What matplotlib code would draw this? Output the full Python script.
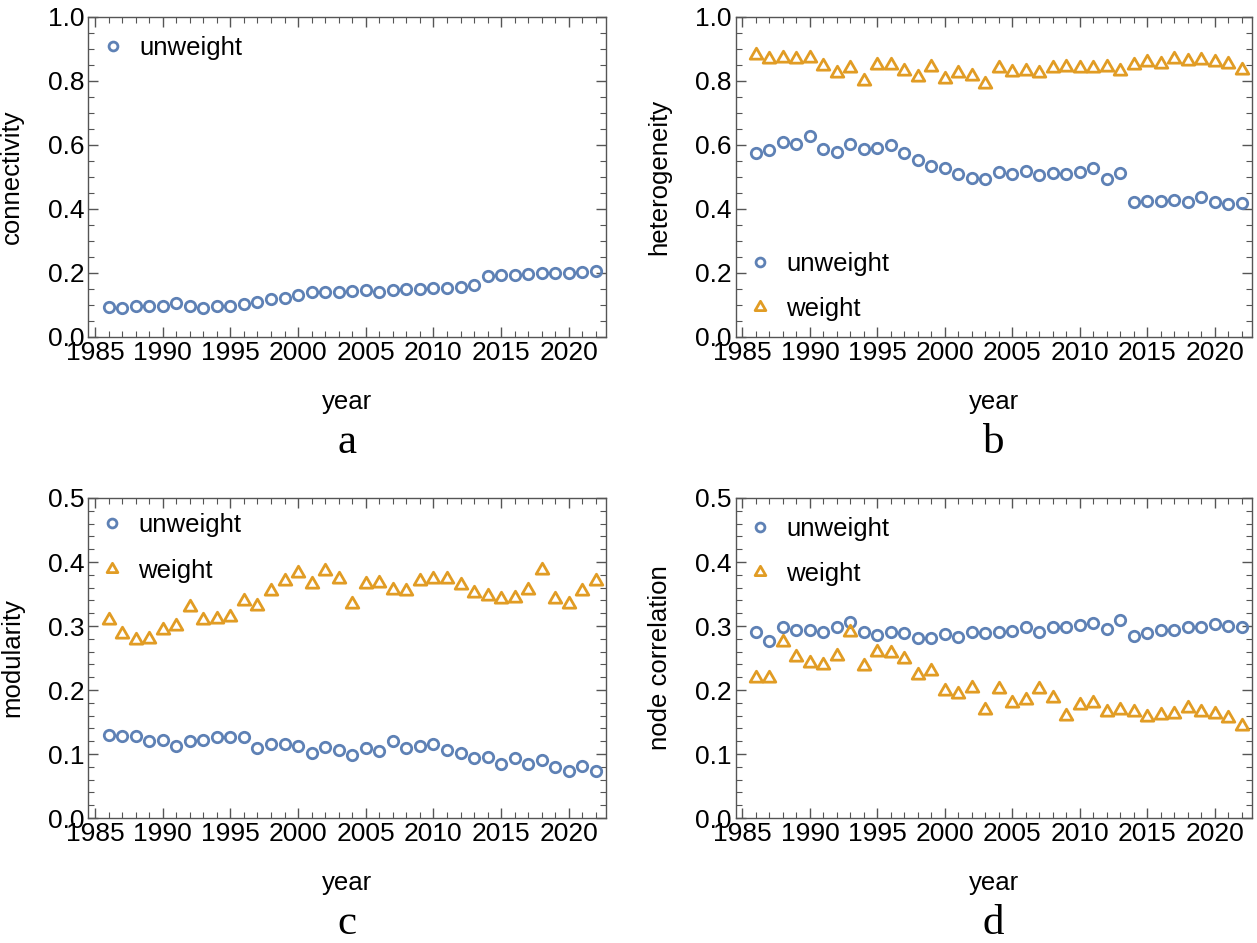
import numpy as np
import matplotlib
matplotlib.use('Agg')
import matplotlib.pyplot as plt
from matplotlib.ticker import MultipleLocator
from matplotlib.path import Path

plt.rcParams['font.family'] = ['Liberation Sans', 'DejaVu Sans']

years = list(range(1986, 2023))

conn_unweight = [0.094, 0.091, 0.096, 0.095, 0.095, 0.104, 0.095, 0.091, 0.095, 0.096,
                 0.101, 0.107, 0.119, 0.120, 0.129, 0.139, 0.139, 0.140, 0.143, 0.146,
                 0.139, 0.145, 0.148, 0.150, 0.152, 0.151, 0.156, 0.163, 0.191, 0.192,
                 0.194, 0.197, 0.198, 0.200, 0.200, 0.201, 0.204]

het_unweight = [0.574, 0.585, 0.610, 0.603, 0.628, 0.588, 0.576, 0.603, 0.588, 0.591,
                0.598, 0.574, 0.551, 0.532, 0.527, 0.508, 0.495, 0.493, 0.514, 0.507,
                0.518, 0.506, 0.512, 0.510, 0.515, 0.528, 0.492, 0.513, 0.422, 0.425,
                0.424, 0.428, 0.422, 0.435, 0.422, 0.415, 0.419]
het_weight = [0.879, 0.867, 0.871, 0.867, 0.870, 0.846, 0.825, 0.840, 0.799, 0.850,
              0.850, 0.831, 0.813, 0.844, 0.806, 0.825, 0.816, 0.790, 0.839, 0.826,
              0.829, 0.823, 0.839, 0.842, 0.841, 0.841, 0.842, 0.829, 0.849, 0.859,
              0.853, 0.867, 0.861, 0.864, 0.857, 0.851, 0.833]

mod_unweight = [0.130, 0.128, 0.128, 0.120, 0.122, 0.113, 0.120, 0.122, 0.126, 0.126,
                0.127, 0.109, 0.116, 0.115, 0.112, 0.102, 0.111, 0.107, 0.098, 0.110,
                0.104, 0.120, 0.110, 0.112, 0.115, 0.107, 0.101, 0.094, 0.095, 0.084,
                0.093, 0.085, 0.090, 0.079, 0.074, 0.082, 0.073]
mod_weight = [0.310, 0.287, 0.278, 0.279, 0.293, 0.300, 0.329, 0.309, 0.311, 0.314,
              0.339, 0.332, 0.355, 0.370, 0.383, 0.365, 0.386, 0.374, 0.334, 0.366,
              0.367, 0.356, 0.355, 0.371, 0.373, 0.374, 0.364, 0.352, 0.347, 0.342,
              0.343, 0.356, 0.387, 0.342, 0.335, 0.354, 0.370]

node_unweight = [0.291, 0.276, 0.298, 0.293, 0.293, 0.291, 0.299, 0.306, 0.290, 0.286,
                 0.291, 0.289, 0.282, 0.282, 0.287, 0.283, 0.291, 0.289, 0.290, 0.292,
                 0.298, 0.290, 0.299, 0.298, 0.301, 0.304, 0.296, 0.310, 0.285, 0.289,
                 0.294, 0.294, 0.299, 0.299, 0.303, 0.300, 0.298]
node_weight = [0.218, 0.218, 0.275, 0.252, 0.242, 0.239, 0.253, 0.291, 0.237, 0.260,
               0.258, 0.249, 0.223, 0.230, 0.199, 0.193, 0.203, 0.169, 0.201, 0.179,
               0.185, 0.202, 0.187, 0.159, 0.176, 0.179, 0.165, 0.168, 0.166, 0.158,
               0.161, 0.163, 0.172, 0.166, 0.162, 0.156, 0.143]

blue = '#5e81b5'
orange = '#e19c24'
frame_col = '#555555'
# equilateral triangle, closed
tri = Path([(0, 1), (-0.866, -0.5), (0.866, -0.5), (0, 1)],
           [Path.MOVETO, Path.LINETO, Path.LINETO, Path.CLOSEPOLY])

fig = plt.figure(figsize=(12.57, 9.43), dpi=100)
W, H = 1257, 943

def make_ax(left, right, top, bottom):
    return fig.add_axes([left / W, 1 - bottom / H, (right - left) / W, (bottom - top) / H])

panels = [
    dict(box=(88.3, 606, 16.7, 336.7), ylab='connectivity', ylim=1.0, major=0.2, minor=0.05,
         series=[(conn_unweight, 'unweight', 'o')], leg=(0.0236, 0.902), letter='a'),
    dict(box=(735.7, 1251.7, 16.7, 336.7), ylab='heterogeneity', ylim=1.0, major=0.2, minor=0.05,
         series=[(het_unweight, 'unweight', 'o'), (het_weight, 'weight', 't')], leg=(0.0229, 0.157), letter='b'),
    dict(box=(88.3, 606, 498, 818), ylab='modularity', ylim=0.5, major=0.1, minor=0.02,
         series=[(mod_unweight, 'unweight', 'o'), (mod_weight, 'weight', 't')], leg=(0.0216, 0.844), letter='c'),
    dict(box=(735.7, 1251.7, 498, 818), ylab='node correlation', ylim=0.5, major=0.1, minor=0.02,
         series=[(node_unweight, 'unweight', 'o'), (node_weight, 'weight', 't')], leg=(0.0229, 0.833), letter='d'),
]

for p in panels:
    l, r, t, b = p['box']
    ax = make_ax(l, r, t, b)
    for vals, lab, m in p['series']:
        if m == 'o':
            ax.plot(years, vals, linestyle='none', marker='o', ms=7.5, mfc='none',
                    mec=blue, mew=2.0, label=lab, clip_on=False)
        else:
            ax.plot(years, vals, linestyle='none', marker=tri, ms=10.5, mfc='none',
                    mec=orange, mew=2.0, label=lab, clip_on=False)
    ax.set_xlim(1984.5, 2022.75)
    ax.set_ylim(0, p['ylim'])
    ax.xaxis.set_major_locator(MultipleLocator(5))
    ax.xaxis.set_minor_locator(MultipleLocator(1))
    ax.yaxis.set_major_locator(MultipleLocator(p['major']))
    ax.yaxis.set_minor_locator(MultipleLocator(p['minor']))
    ax.yaxis.set_major_formatter(plt.FuncFormatter(lambda v, pos: '%.1f' % v))
    ax.tick_params(which='both', direction='in', top=True, right=True,
                   color=frame_col, labelsize=19, pad=3)
    ax.tick_params(which='major', length=7, width=1)
    ax.tick_params(which='minor', length=4, width=0.8)
    for s in ax.spines.values():
        s.set_color(frame_col)
        s.set_linewidth(1)
    ax.set_ylabel(p['ylab'], fontsize=18.5)
    ax.yaxis.set_label_coords(-0.124, 0.5)
    leg = ax.legend(loc='center left', bbox_to_anchor=p['leg'], frameon=False, fontsize=18.5,
                    handlelength=1, handletextpad=0.5, borderpad=0, borderaxespad=0,
                    labelspacing=0.85, numpoints=1)
    for h in leg.legend_handles:
        h.set_markersize(h.get_markersize() * 0.85)
    cx = (l + r) / 2 / W
    fig.text(cx, 1 - (b + 65) / H, 'year', fontsize=18.5, ha='center', va='center')
    fig.text(cx, 1 - (b + 106) / H, p['letter'], fontsize=31, ha='center', va='center',
             family=['Liberation Serif', 'DejaVu Serif'])

fig.savefig('out.png', dpi=100)
